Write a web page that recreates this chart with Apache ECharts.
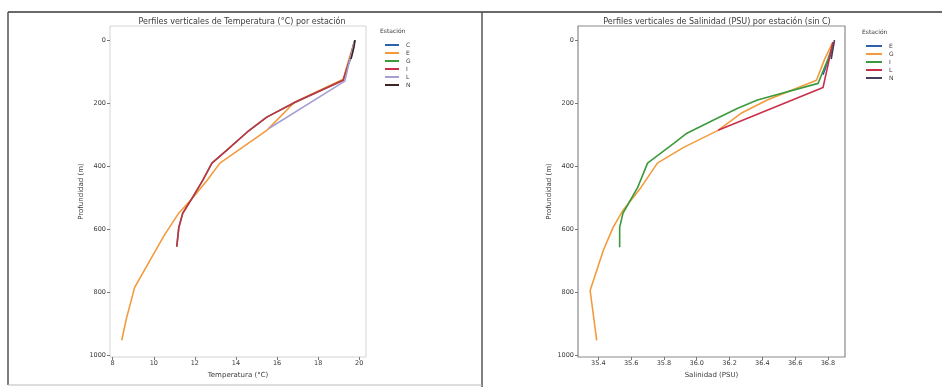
<!DOCTYPE html>
<html><head><meta charset="utf-8">
<script src="https://cdn.jsdelivr.net/npm/echarts@6/dist/echarts.min.js"></script>
<style>html,body{margin:0;padding:0;background:#fff}#c{width:942px;height:387px}</style>
</head><body><div id="c"></div>
<script>
// ---- tick labels ----
const tempTicks = [8, 10, 12, 14, 16, 18, 20];
const salTicks = [35.4, 35.6, 35.8, 36.0, 36.2, 36.4, 36.6, 36.8];
const depthTicks = [0, 200, 400, 600, 800, 1000];

// ---- stations ----
const tempStations = ['C', 'E', 'G', 'I', 'L', 'N'];
const salStations = ['E', 'G', 'I', 'L', 'N'];

// ---- temperature profiles (depth m, temperature °C) ----
const tC_depth = [0, 25, 50, 75];
const tC_temp  = [19.78, 19.7, 19.6, 19.5];
const tE_depth = [6, 60, 124, 197, 286, 390, 444, 500, 550, 620, 784, 880, 952];
const tE_temp  = [19.76, 19.5, 19.22, 16.85, 15.5, 13.22, 12.6, 11.9, 11.2, 10.5, 9.07, 8.68, 8.44];
const tG_depth = [6, 57, 127, 197, 244, 292, 349, 390, 444, 498, 549, 594, 655];
const tG_temp  = [19.76, 19.56, 19.22, 16.88, 15.5, 14.54, 13.56, 12.83, 12.39, 11.9, 11.41, 11.22, 11.12];
const tI_depth = [6, 57, 127, 197, 244, 292, 349, 390, 444, 498, 549, 594, 655];
const tI_temp  = [19.76, 19.56, 19.22, 16.88, 15.5, 14.54, 13.56, 12.83, 12.39, 11.9, 11.41, 11.22, 11.12];
const tL_depth = [6, 60, 130, 280];
const tL_temp  = [19.76, 19.55, 19.3, 15.6];
const tN_depth = [0, 20, 40, 60];
const tN_temp  = [19.8, 19.75, 19.68, 19.6];

// ---- salinity profiles (depth m, salinity PSU) ----
const sE_depth = [6, 40, 80, 110];
const sE_sal   = [36.83, 36.82, 36.79, 36.77];
const sG_depth = [6, 60, 127, 190, 232, 286, 340, 390, 467, 540, 594, 667, 794, 952];
const sG_sal   = [36.83, 36.78, 36.73, 36.43, 36.27, 36.13, 35.92, 35.76, 35.66, 35.55, 35.49, 35.43, 35.35, 35.39];
const sI_depth = [15, 60, 137, 190, 216, 254, 295, 327, 390, 467, 549, 594, 657];
const sI_sal   = [36.83, 36.8, 36.74, 36.37, 36.25, 36.1, 35.94, 35.86, 35.7, 35.64, 35.55, 35.53, 35.53];
const sL_depth = [6, 80, 150, 286];
const sL_sal   = [36.83, 36.8, 36.77, 36.13];
const sN_depth = [0, 30, 60];
const sN_sal   = [36.84, 36.83, 36.82];

const palette = ['#2a62ad', '#f39b3c', '#3c9a3c', '#c8304a', '#a79fd0', '#3b2424'];
const salPalette = ['#2a62ad', '#f39b3c', '#3c9a3c', '#c8304a', '#4b3a5a'];

const tempProfiles = [[tC_temp, tC_depth], [tE_temp, tE_depth], [tG_temp, tG_depth], [tI_temp, tI_depth], [tL_temp, tL_depth], [tN_temp, tN_depth]];
const salProfiles = [[sE_sal, sE_depth], [sG_sal, sG_depth], [sI_sal, sI_depth], [sL_sal, sL_depth], [sN_sal, sN_depth]];

const FONT = 'DejaVu Sans';
const TXT = '#3a3a3a';

function mk(name, xs, ys, color, idx) {
  return {
    type: 'line', name: name, xAxisIndex: idx, yAxisIndex: idx,
    data: xs.map((v, i) => [v, ys[i]]),
    showSymbol: false, symbol: 'none', animation: false,
    lineStyle: { width: 1.6, color: color }, itemStyle: { color: color }
  };
}

const series = [];
tempStations.forEach((s, i) => series.push(mk(s, tempProfiles[i][0], tempProfiles[i][1], palette[i], 0)));
salStations.forEach((s, i) => series.push(mk(s, salProfiles[i][0], salProfiles[i][1], salPalette[i], 1)));

function xAx(idx, min, max, ticks, name, fmt) {
  return {
    type: 'value', gridIndex: idx, min: min, max: max, position: 'bottom',
    name: name, nameLocation: 'middle', nameGap: 10,
    nameTextStyle: { fontFamily: FONT, fontSize: 7, color: TXT },
    axisLine: { show: false, onZero: false },
    axisTick: { show: true, length: 3, customValues: ticks, lineStyle: { color: '#777' } },
    axisLabel: { customValues: ticks, fontFamily: FONT, fontSize: 6.5, color: TXT, margin: 3, formatter: fmt },
    splitLine: { show: false }
  };
}
function yAx(idx) {
  return {
    type: 'value', gridIndex: idx, min: -45, max: 1005, inverse: true, position: 'left',
    name: 'Profundidad (m)', nameLocation: 'middle', nameGap: 25, nameRotate: 90,
    nameTextStyle: { fontFamily: FONT, fontSize: 7, color: TXT },
    axisLine: { show: false, onZero: false },
    axisTick: { show: true, length: 3, customValues: depthTicks, lineStyle: { color: '#777' } },
    axisLabel: { customValues: depthTicks, fontFamily: FONT, fontSize: 6.5, color: TXT, margin: 4, formatter: v => String(Math.round(v)) },
    splitLine: { show: false }
  };
}

const chart = echarts.init(document.getElementById('c'), null, { renderer: 'canvas' });
chart.setOption({
  backgroundColor: '#ffffff',
  animation: false,
  title: [
    { text: 'Perfiles verticales de Temperatura (°C) por estación', left: 237, top: 13, textAlign: 'center',
      textStyle: { fontFamily: FONT, fontSize: 8, fontWeight: 'normal', color: TXT } },
    { text: 'Perfiles verticales de Salinidad (PSU) por estación (sin C)', left: 712, top: 13, textAlign: 'center',
      textStyle: { fontFamily: FONT, fontSize: 8, fontWeight: 'normal', color: TXT } }
  ],
  grid: [
    { left: 110, top: 26, width: 256, height: 331, show: true, borderColor: '#d4d4d4', borderWidth: 1, backgroundColor: 'transparent' },
    { left: 578, top: 26, width: 267, height: 331, show: true, borderColor: '#8a8a8a', borderWidth: 1.2, backgroundColor: 'transparent' }
  ],
  xAxis: [
    xAx(0, 7.87, 20.33, tempTicks, 'Temperatura (°C)', v => String(Math.round(v))),
    xAx(1, 35.276, 36.904, salTicks, 'Salinidad (PSU)', v => v.toFixed(1))
  ],
  yAxis: [yAx(0), yAx(1)],
  legend: [
    { data: tempStations, orient: 'vertical', left: 380, top: 37, itemWidth: 14, itemHeight: 2, itemGap: 2,
      icon: 'rect', textStyle: { fontFamily: FONT, fontSize: 6, color: TXT, padding: [0, 0, 0, 2] } },
    { data: salStations.map((s, i) => ({ name: s, itemStyle: { color: salPalette[i] } })),
      orient: 'vertical', left: 861, top: 38, itemWidth: 16, itemHeight: 2, itemGap: 2,
      icon: 'rect', textStyle: { fontFamily: FONT, fontSize: 6, color: TXT, padding: [0, 0, 0, 2] } }
  ],
  graphic: [
    { type: 'line', shape: { x1: 8, y1: 12, x2: 942, y2: 12 }, style: { stroke: '#6a6a6a', lineWidth: 2 } },
    { type: 'line', shape: { x1: 8, y1: 12, x2: 8, y2: 385 }, style: { stroke: '#555', lineWidth: 1.5 } },
    { type: 'line', shape: { x1: 482, y1: 12, x2: 482, y2: 387 }, style: { stroke: '#555', lineWidth: 1.5 } },
    { type: 'line', shape: { x1: 8, y1: 385, x2: 482, y2: 385 }, style: { stroke: '#bbb', lineWidth: 1 } },
    { type: 'text', left: 380, top: 28, style: { text: 'Estación', font: '6px "DejaVu Sans"', fill: TXT } },
    { type: 'text', left: 862, top: 29, style: { text: 'Estación', font: '6px "DejaVu Sans"', fill: TXT } }
  ],
  series: series
});
</script>
</body></html>
